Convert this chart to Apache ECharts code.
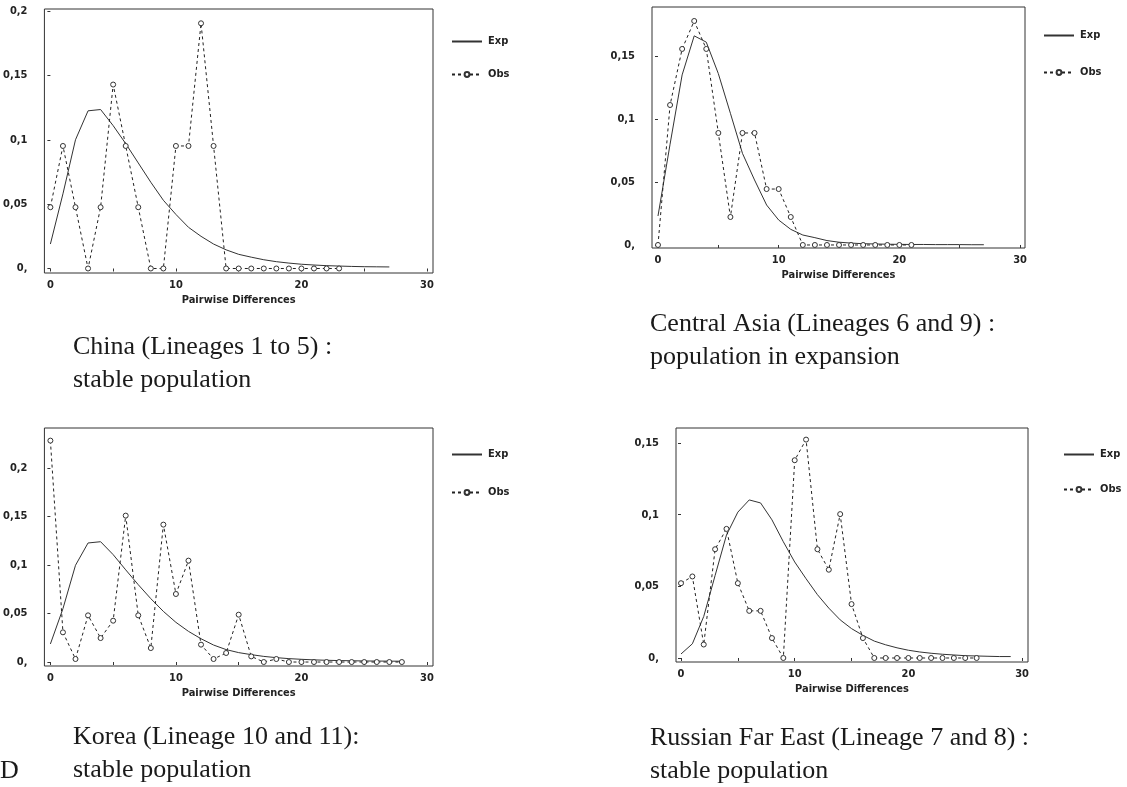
<!DOCTYPE html>
<html>
<head>
<meta charset="utf-8">
<script src="https://cdn.jsdelivr.net/npm/echarts@6/dist/echarts.min.js"></script>
<style>
html,body{margin:0;padding:0;background:#fff;}
#c{width:1127px;height:787px;}
</style>
</head>
<body>
<div id="c"></div>
<script>
// ---- Data ----
const chinaExp = [0.019, 0.058, 0.100, 0.1225, 0.1235, 0.111, 0.097, 0.082, 0.067, 0.053, 0.042, 0.032, 0.025, 0.019, 0.0145, 0.011, 0.0088, 0.0068, 0.0053, 0.0042, 0.0033, 0.0027, 0.0022, 0.0019, 0.0016, 0.0014, 0.0013, 0.0012];
const chinaObs = [0.0476, 0.0952, 0.0476, 0, 0.0476, 0.1429, 0.0952, 0.0476, 0, 0, 0.0952, 0.0952, 0.1905, 0.0952, 0, 0, 0, 0, 0, 0, 0, 0, 0, 0];

const asiaExp = [0.023, 0.080, 0.135, 0.166, 0.161, 0.136, 0.1045, 0.0727, 0.0516, 0.0317, 0.0198, 0.0124, 0.0079, 0.0058, 0.0035, 0.0022, 0.0015, 0.0010, 0.0008, 0.0006, 0.0005, 0.0004, 0.0004, 0.0003, 0.0003, 0.0003, 0.0002, 0.0002];
const asiaObs = [0, 0.1111, 0.1556, 0.1778, 0.1556, 0.0889, 0.0222, 0.0889, 0.0889, 0.0444, 0.0444, 0.0222, 0, 0, 0, 0, 0, 0, 0, 0, 0, 0];

const koreaExp = [0.0186, 0.055, 0.0997, 0.1227, 0.124, 0.1107, 0.095, 0.0797, 0.0653, 0.0522, 0.0409, 0.0316, 0.024, 0.0175, 0.0128, 0.0097, 0.0076, 0.0058, 0.0045, 0.0035, 0.0028, 0.0022, 0.0018, 0.0015, 0.0013, 0.0011, 0.001, 0.0009, 0.0008];
const koreaObs = [0.2282, 0.0306, 0.0031, 0.0481, 0.0247, 0.0426, 0.1509, 0.0481, 0.0144, 0.1416, 0.0701, 0.1045, 0.0179, 0.0031, 0.0093, 0.0488, 0.0058, 0, 0.0031, 0, 0, 0, 0, 0, 0, 0, 0, 0, 0];

const russiaExp = [0.0028, 0.0099, 0.029, 0.0576, 0.0858, 0.1018, 0.1103, 0.1082, 0.0964, 0.0811, 0.067, 0.0553, 0.0442, 0.0348, 0.0266, 0.0205, 0.0158, 0.0118, 0.0092, 0.0071, 0.0054, 0.0042, 0.0033, 0.0026, 0.0021, 0.0016, 0.0014, 0.0012, 0.001, 0.001];
const russiaObs = [0.0522, 0.0569, 0.0094, 0.0759, 0.0901, 0.0522, 0.0329, 0.0329, 0.0139, 0, 0.138, 0.1524, 0.0759, 0.0616, 0.1004, 0.0376, 0.0139, 0, 0, 0, 0, 0, 0, 0, 0, 0, 0];

const xTickValues = [0, 5, 10, 15, 20, 25, 30];
const xLabelValues = [0, 10, 20, 30];
const yTicks3 = [0, 0.05, 0.1, 0.15];
const yTicks4 = [0, 0.05, 0.1, 0.15, 0.2];
const xAxisName = 'Pairwise Differences';
const seriesNames = ['Exp', 'Obs'];
const captions = [
  ['China (Lineages 1 to 5) :', 'stable population'],
  ['Central Asia (Lineages 6 and 9) :', 'population in expansion'],
  ['Korea (Lineage 10 and 11):', 'stable population'],
  ['Russian Far East (Lineage 7 and 8) :', 'stable population']
];
const panelLetter = 'D';

// ---- Layout ----
const panels = [
  {grid:{left:43, top:9, width:390, height:264}, x:[-0.476, 30.48], y:[-0.0035, 0.2016], yt:yTicks4, exp:chinaExp, obs:chinaObs, legend:{left:446, top:31, gap:22}},
  {grid:{left:652, top:7, width:373, height:241}, x:[-0.497, 30.41], y:[-0.0024, 0.1889], yt:yTicks3, exp:asiaExp, obs:asiaObs, legend:{left:1038, top:25, gap:26}},
  {grid:{left:43, top:428, width:390, height:238}, x:[-0.476, 30.48], y:[-0.0041, 0.2412], yt:yTicks4, exp:koreaExp, obs:koreaObs, legend:{left:446, top:444, gap:27}},
  {grid:{left:676, top:428, width:352, height:234}, x:[-0.44, 30.52], y:[-0.0028, 0.1605], yt:yTicks3, exp:russiaExp, obs:russiaObs, legend:{left:1058, top:444, gap:24}}
];
const capPos = [{x:73, y:347}, {x:650, y:324}, {x:73, y:737}, {x:650, y:738}];

const axFont = '"Liberation Sans Narrow","DejaVu Sans Condensed","Liberation Sans",sans-serif';
const capFont = '26px "Liberation Serif", "Times New Roman", serif';
const ink = '#222';

function yFmt(v){
  if (Math.abs(v) < 1e-9) return '0,';
  return String(+v.toFixed(2)).replace('.', ',');
}

const option = {
  animation:false,
  backgroundColor:'#fff',
  grid:[], xAxis:[], yAxis:[], series:[], legend:[], graphic:[]
};

panels.forEach((p, i) => {
  option.grid.push(Object.assign({show:true, borderColor:'#333', borderWidth:1, backgroundColor:'transparent'}, p.grid));
  option.xAxis.push({
    type:'value', gridIndex:i, min:p.x[0], max:p.x[1],
    name:xAxisName, nameLocation:'middle', nameGap:22,
    nameTextStyle:{fontFamily:axFont, fontWeight:'bold', fontSize:11, color:ink},
    axisLine:{show:false},
    splitLine:{show:false},
    axisTick:{show:true, inside:false, length:3, customValues:xTickValues, lineStyle:{color:'#333'}},
    axisLabel:{customValues:xLabelValues, margin:7, fontFamily:axFont, fontWeight:'bold', fontSize:11, color:ink}
  });
  option.yAxis.push({
    type:'value', gridIndex:i, min:p.y[0], max:p.y[1],
    axisLine:{show:false},
    splitLine:{show:false},
    axisTick:{show:true, inside:false, length:3, customValues:p.yt, lineStyle:{color:'#333'}},
    axisLabel:{customValues:p.yt, margin:17, formatter:yFmt, fontFamily:axFont, fontWeight:'bold', fontSize:11, color:ink}
  });
  option.series.push({
    name:seriesNames[0], type:'line', xAxisIndex:i, yAxisIndex:i,
    data:p.exp.map((v, k) => [k, v]),
    showSymbol:false, symbol:'none',
    lineStyle:{color:'#333', width:1}, itemStyle:{color:'#333'}
  });
  option.series.push({
    name:seriesNames[1], type:'line', xAxisIndex:i, yAxisIndex:i, z:3,
    data:p.obs.map((v, k) => [k, v]),
    symbol:'circle', symbolSize:5, showSymbol:true,
    lineStyle:{color:'#222', width:1, type:[3,3]},
    itemStyle:{color:'#fff', borderColor:'#333', borderWidth:1}
  });
  option.legend.push({
    left:p.legend.left, top:p.legend.top, orient:'vertical', itemGap:p.legend.gap,
    itemWidth:30, itemHeight:6, selectedMode:false,
    data:[
      {name:seriesNames[0], itemStyle:{opacity:0}},
      {name:seriesNames[1]}
    ],
    textStyle:{fontFamily:axFont, fontWeight:'bold', fontSize:11, color:ink, padding:[0,0,0,1]}
  });
  const c = captions[i];
  option.graphic.push({type:'text', left:capPos[i].x, top:capPos[i].y - 13,
    style:{text:c[0], font:capFont, fill:'#1a1a1a'}});
  option.graphic.push({type:'text', left:capPos[i].x, top:capPos[i].y + 20,
    style:{text:c[1], font:capFont, fill:'#1a1a1a'}});
});
option.graphic.push({type:'text', left:0, top:capPos[2].y + 21,
  style:{text:panelLetter, font:capFont, fill:'#1a1a1a'}});

const chart = echarts.init(document.getElementById('c'), null, {renderer:'canvas'});
chart.setOption(option);
</script>
</body>
</html>
